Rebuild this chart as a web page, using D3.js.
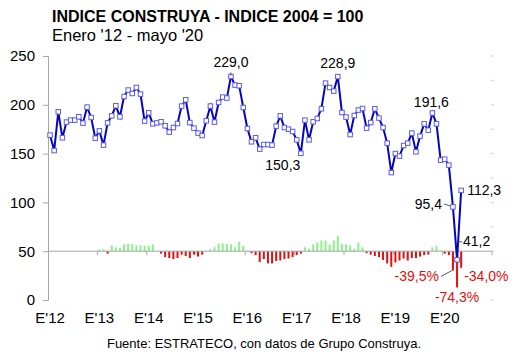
<!DOCTYPE html>
<html>
<head>
<meta charset="utf-8">
<script src="https://cdn.jsdelivr.net/npm/d3@7"></script>
<style>
  body { margin: 0; background: #fff; }
  svg { display: block; font-family: "Liberation Sans", Arial, sans-serif; }
</style>
</head>
<body>
<script>
// Indice Construya (base 2004 = 100), monthly, Jan 2012 .. May 2020
const indexValues = [
  168.9, 153.1, 192.8, 166.2, 182.3, 184.3, 184.3, 187.7, 181.2, 197.6, 187.0, 165.8,
  173.3, 158.7, 181.5, 188.7, 199.0, 187.7, 208.5, 215.1, 211.6, 217.7, 211.0, 183.3,
  191.8, 180.5, 181.5, 182.6, 178.5, 172.0, 176.7, 180.8, 198.7, 205.1, 181.8, 176.1,
  171.0, 168.5, 183.6, 198.7, 182.3, 202.4, 207.9, 206.9, 229.0, 220.2, 219.5, 197.2,
  175.7, 162.1, 166.2, 154.6, 159.3, 159.3, 158.7, 178.1, 188.7, 176.7, 175.0, 172.6,
  164.1, 150.3, 184.3, 164.1, 182.6, 186.0, 195.9, 222.2, 217.7, 214.0, 228.9, 192.1,
  187.4, 169.5, 189.0, 194.6, 196.2, 176.1, 181.8, 195.9, 186.4, 176.7, 160.7, 130.6,
  150.1, 147.4, 158.3, 160.7, 171.0, 151.8, 167.9, 180.5, 174.0, 191.6, 180.5, 143.3,
  144.3, 138.2, 95.4, 41.2, 112.3
];

// year-over-year change (%), Jan 2013 .. May 2020
const yoyStart = 12;
const yoyValues = [
  3, 4, -5, 12, 8, 7, 14, 15, 15, 12, 12, 11,
  11, 14, 0, -5, -12, -14, -16, -14, -7, -10, -14, -7,
  -11, -7, 1, 4, 8, 16, 16, 15, 14, 8, 19, 11,
  1, -4, -8, -22, -16, -25, -25, -20, -19, -16, -15, -12,
  -8, -5, 8, 5, 14, 18, 22, 22, 14, 22, 31, 15,
  14, 12, 5, 18, 8, -4, -7, -10, -12, -18, -25, -32,
  -23, -19, -15, -19, -14, -14, -11, -8, -7, 8, 11, 1,
  -5, -8, -39.5, -74.3, -34.0
];

const yearLabels = ["E'12", "E'13", "E'14", "E'15", "E'16", "E'17", "E'18", "E'19", "E'20"];
const yTicks = [0, 50, 100, 150, 200, 250];

const width = 530;
const height = 354;
const plot = { left: 48, right: 492, top: 56, bottom: 300 };

const svg = d3.select("body")
  .append("svg")
  .attr("width", width)
  .attr("height", height);

// 9 years of monthly categories
const x = d3.scaleBand()
  .domain(d3.range(yearLabels.length * 12))
  .range([plot.left, plot.right]);
const cx = i => x(i) + x.bandwidth() / 2;

const y = d3.scaleLinear().domain([0, 250]).range([plot.bottom, plot.top]);
// secondary axis for the % bars, 0% sits on the 50 line
const y2 = d3.scaleLinear().domain([-100, 400]).range([plot.bottom, plot.top]);

// titles
svg.append("text")
  .attr("x", 52).attr("y", 22)
  .style("font-size", "16px").style("font-weight", "bold")
  .text("INDICE CONSTRUYA - INDICE 2004 = 100");
svg.append("text")
  .attr("x", 52).attr("y", 41)
  .style("font-size", "16.5px")
  .text("Enero '12 - mayo '20");

// left axis
const yAxis = svg.append("g")
  .attr("transform", `translate(${plot.left},0)`)
  .call(d3.axisLeft(y).tickValues(yTicks).tickSize(5).tickPadding(8));
yAxis.select(".domain").attr("stroke", "#a6a6a6");
yAxis.selectAll(".tick line").attr("stroke", "#a6a6a6");
yAxis.selectAll(".tick text")
  .style("font-size", "15px")
  .attr("fill", "#000")
  .style("font-family", "'Liberation Sans', Arial, sans-serif");

// right axis ticks only
svg.append("g")
  .selectAll("line")
  .data(d3.range(-100, 401, 50))
  .join("line")
  .attr("x1", plot.right - 1).attr("x2", plot.right + 2)
  .attr("y1", d => y2(d)).attr("y2", d => y2(d))
  .attr("stroke", "#d0d0d0");

// yoy bars
const barW = 2;
svg.append("g")
  .selectAll("rect")
  .data(yoyValues)
  .join("rect")
  .attr("x", (d, i) => cx(i + yoyStart) - barW / 2)
  .attr("width", barW)
  .attr("y", d => y2(Math.max(0, d)))
  .attr("height", d => Math.abs(y2(d) - y2(0)))
  .attr("fill", d => d >= 0 ? "#8cf08c" : "#e01010");

// category axis on the 50 / 0% line
svg.append("line")
  .attr("x1", plot.left).attr("x2", plot.right)
  .attr("y1", y2(0)).attr("y2", y2(0))
  .attr("stroke", "#a6a6a6");
svg.append("g")
  .selectAll("line")
  .data(d3.range(1, yearLabels.length + 1))
  .join("line")
  .attr("x1", k => k < yearLabels.length ? x(k * 12) : plot.right)
  .attr("x2", k => k < yearLabels.length ? x(k * 12) : plot.right)
  .attr("y1", y2(0)).attr("y2", y2(0) + 4)
  .attr("stroke", "#a6a6a6");

svg.append("g")
  .selectAll("text")
  .data(yearLabels)
  .join("text")
  .attr("x", (d, k) => cx(k * 12))
  .attr("y", 323)
  .attr("text-anchor", "middle")
  .style("font-size", "15px")
  .text(d => d);

// index line
const line = d3.line()
  .x((d, i) => cx(i))
  .y(d => y(d));

svg.append("path")
  .datum(indexValues)
  .attr("fill", "none")
  .attr("stroke", "#0505c0")
  .attr("stroke-width", 2)
  .attr("d", line);

const m = 4.5;
svg.append("g")
  .selectAll("rect")
  .data(indexValues)
  .join("rect")
  .attr("x", (d, i) => cx(i) - m / 2)
  .attr("y", d => y(d) - m / 2)
  .attr("width", m).attr("height", m)
  .attr("fill", "#fff")
  .attr("stroke", "#5a5ae6")
  .attr("stroke-width", 1);

// value labels, comma decimals and plain hyphen minus
const fmt = v => v.toFixed(1).replace(".", ",");
const indexLabels = [
  { i: 44, dx: 0, dy: -9, anchor: "middle", lead: [0, -4, 0, -1] },
  { i: 61, dx: -18, dy: 17, anchor: "middle" },
  { i: 70, dx: 0, dy: -9, anchor: "middle" },
  { i: 93, dx: -1, dy: -6, anchor: "middle" },
  { i: 98, dx: -11, dy: 2, anchor: "end", lead: [-9, -3, -3, -1] },
  { i: 99, dx: 6, dy: -14, anchor: "start", lead: [1, -18, 5, -18] },
  { i: 100, dx: 6, dy: 5, anchor: "start" }
];

indexLabels.forEach(l => {
  const px = cx(l.i), py = y(indexValues[l.i]);
  svg.append("text")
    .attr("x", px + l.dx).attr("y", py + l.dy)
    .attr("text-anchor", l.anchor)
    .style("font-size", "14px")
    .text(fmt(indexValues[l.i]));
  if (l.lead) {
    svg.append("line")
      .attr("x1", px + l.lead[0]).attr("y1", py + l.lead[1])
      .attr("x2", px + l.lead[2]).attr("y2", py + l.lead[3])
      .attr("stroke", "#555");
  }
});

const yoyLabels = [
  { i: 98, dx: -14, dy: 11, anchor: "end", lead: [-12, 6, -1, 0] },
  { i: 99, dx: 0, dy: 15, anchor: "middle" },
  { i: 100, dx: 3, dy: 13, anchor: "start" }
];

yoyLabels.forEach(l => {
  const v = yoyValues[l.i - yoyStart];
  const px = cx(l.i), py = y2(v);
  svg.append("text")
    .attr("x", px + l.dx).attr("y", py + l.dy)
    .attr("text-anchor", l.anchor)
    .attr("fill", "#e01010")
    .style("font-size", "14px")
    .text(fmt(v) + "%");
  if (l.lead) {
    svg.append("line")
      .attr("x1", px + l.lead[0]).attr("y1", py + l.lead[1])
      .attr("x2", px + l.lead[2]).attr("y2", py + l.lead[3])
      .attr("stroke", "#555");
  }
});

// source
svg.append("text")
  .attr("x", 264).attr("y", 348)
  .attr("text-anchor", "middle")
  .style("font-size", "13px")
  .text("Fuente: ESTRATECO, con datos de Grupo Construya.");
</script>
</body>
</html>
